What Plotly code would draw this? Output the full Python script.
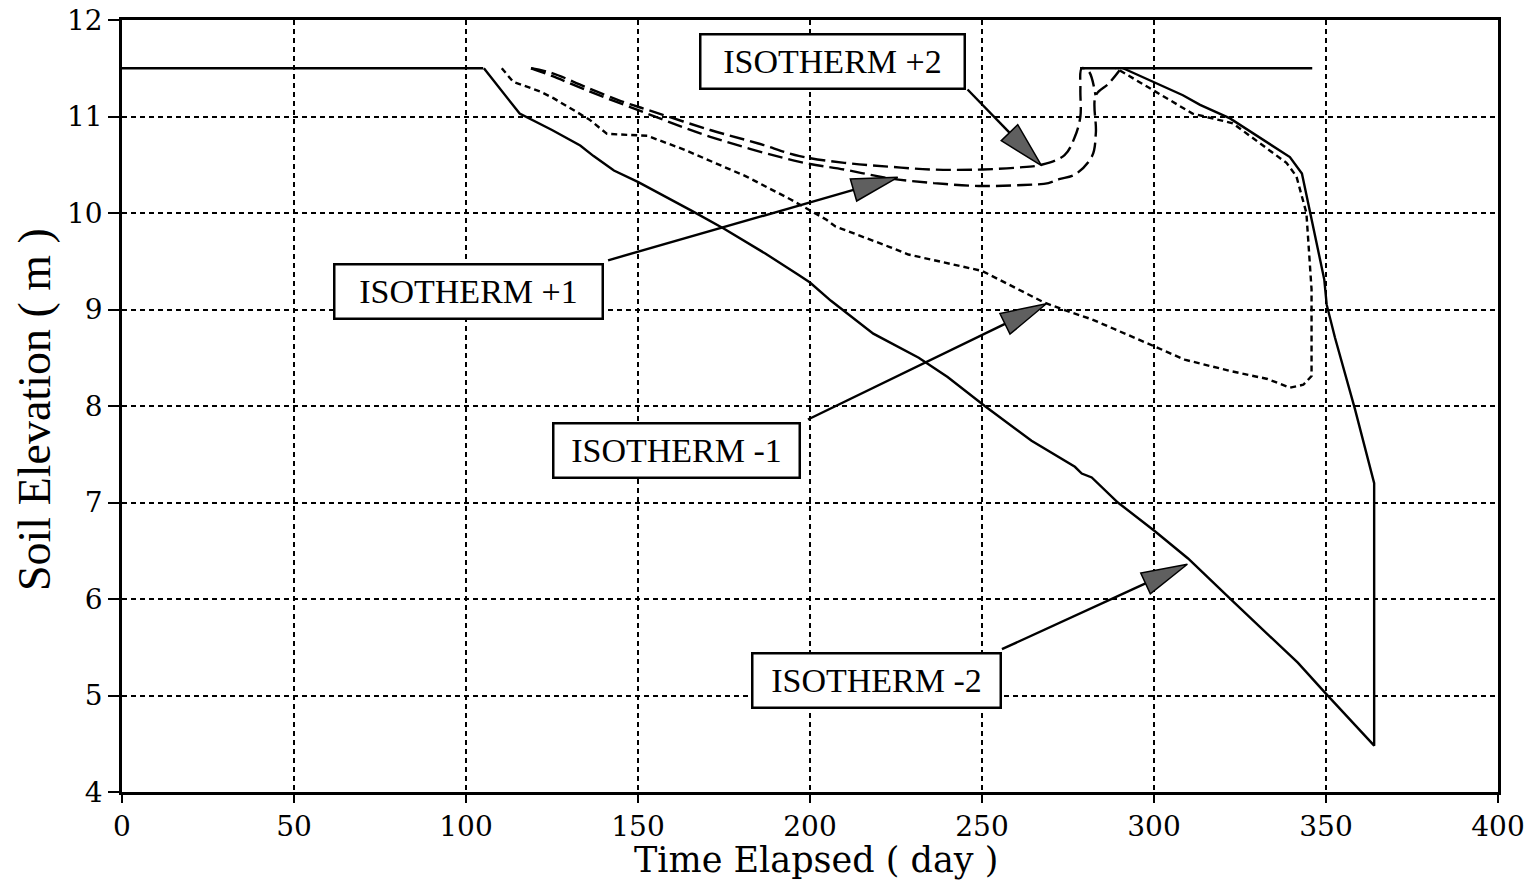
import plotly.graph_objects as go
import math

# ---------------- data ----------------
surface_x = [0, 105, None, 278.5, 346]
surface_y = [11.5, 11.5, None, 11.5, 11.5]

iso_m2_x = [105.2, 115.6, 125, 133.2, 137.1, 143, 150.1, 158, 165.8, 174.9, 187, 196.6, 200,
            206.1, 218.4, 231.6, 240, 250.8, 264.4, 277, 279, 281.9, 289.5, 300, 309.9, 322.5,
            341.8, 349.7, 364, 364, 358.4, 352.6, 350.2, 349.5, 345.3, 343, 339.5, 322.1, 313.4,
            308.4, 291]
iso_m2_y = [11.5, 11.03, 10.86, 10.7, 10.59, 10.44, 10.32, 10.17, 10.02, 9.84, 9.58, 9.36, 9.28,
            9.09, 8.75, 8.5, 8.3, 8.0, 7.64, 7.37, 7.3, 7.26, 7.0, 6.71, 6.42, 5.99,
            5.34, 5.03, 4.48, 7.2, 7.97, 8.71, 9.05, 9.31, 10.0, 10.41, 10.58, 10.98, 11.12,
            11.22, 11.5]

iso_m1_x = [110.4, 113.7, 121.5, 125.4, 135.8, 141, 152.7, 163.2, 181.4, 194.4, 204.8, 207.4,
            223, 228.6, 250, 268.2, 275.9, 281.8, 300, 308.9, 322.5, 333, 339.5, 343.4, 345.8,
            345.8, 344.3, 341.4, 338.5, 322.9, 311.2, 291.7, 289]
iso_m1_y = [11.5, 11.36, 11.26, 11.19, 10.97, 10.82, 10.8, 10.66, 10.38, 10.14, 9.93, 9.86,
            9.65, 9.57, 9.4, 9.07, 8.97, 8.9, 8.62, 8.48, 8.36, 8.28, 8.19, 8.22, 8.31,
            9.21, 10.0, 10.38, 10.52, 10.93, 11.03, 11.45, 11.5]

iso_p1_x = [118.9, 125, 134.5, 152.7, 171, 197, 210, 223, 236, 249, 262, 269.3, 272.4, 277.1,
            282, 283.1, 283.1, 286.8, 290]
iso_p1_y = [11.5, 11.42, 11.28, 11.03, 10.79, 10.53, 10.45, 10.36, 10.31, 10.28, 10.29, 10.31,
            10.35, 10.4, 10.59, 10.83, 11.22, 11.34, 11.48]

iso_p2_x = [118.9, 125, 134.5, 145, 152.7, 171, 185, 197, 210, 223, 236, 249, 260, 267.3, 274,
            277, 278.6, 278.6, 279, 281, 283]
iso_p2_y = [11.5, 11.45, 11.31, 11.16, 11.07, 10.86, 10.72, 10.59, 10.52, 10.48, 10.45, 10.45,
            10.47, 10.5, 10.6, 10.79, 11.0, 11.28, 11.5, 11.47, 11.22]

label_text = ["ISOTHERM +2", "ISOTHERM +1", "ISOTHERM -1", "ISOTHERM -2"]
label_cx = [206.5, 100.6, 161.2, 219.4]
label_cy = [11.575, 9.185, 7.54, 5.155]
arrow_sx = [245.8, 141.3, 199.4, 255.8]
arrow_sy = [11.28, 9.51, 7.86, 5.48]
arrow_tx = [267.3, 225.5, 268.7, 309.7]
arrow_ty = [10.49, 10.37, 9.06, 6.36]

x_ticks = [0, 50, 100, 150, 200, 250, 300, 350, 400]
y_ticks = [4, 5, 6, 7, 8, 9, 10, 11, 12]

x_title = "Time Elapsed ( day )"
y_title = "Soil Elevation ( m )"

# ---------------- layout geometry (body margin removed via post_script) ----------------
W, H = 1540, 887
ML, MR, MT, MB = 122, 42, 20, 95
PW, PH = W - ML - MR, H - MT - MB
XR, YR = (0, 400), (4, 12)
sx = PW / (XR[1] - XR[0])
sy = PH / (YR[1] - YR[0])

SERIF = "Liberation Serif"
WIDE_SERIF = "DejaVu Serif"

fig = go.Figure()

line_w = 2.4
fig.add_trace(go.Scatter(x=surface_x, y=surface_y, mode="lines",
                         line=dict(color="black", width=line_w), hoverinfo="skip"))
fig.add_trace(go.Scatter(x=iso_m2_x, y=iso_m2_y, mode="lines",
                         line=dict(color="black", width=line_w)))
fig.add_trace(go.Scatter(x=iso_m1_x, y=iso_m1_y, mode="lines",
                         line=dict(color="black", width=line_w, dash="6px,4px")))
fig.add_trace(go.Scatter(x=iso_p1_x, y=iso_p1_y, mode="lines", line_shape="spline",
                         line=dict(color="black", width=line_w, dash="15px,6px")))
fig.add_trace(go.Scatter(x=iso_p2_x, y=iso_p2_y, mode="lines", line_shape="spline",
                         line=dict(color="black", width=line_w, dash="15px,6px")))

# arrows: line + filled head
L_HEAD, HW_HEAD = 46, 11.5
for s_x, s_y, t_x, t_y in zip(arrow_sx, arrow_sy, arrow_tx, arrow_ty):
    dxp = (t_x - s_x) * sx
    dyp = (t_y - s_y) * sy
    d = math.hypot(dxp, dyp)
    ux, uy = dxp / d, dyp / d
    nx, ny = -uy, ux
    bx = t_x - L_HEAD * ux / sx
    by = t_y - L_HEAD * uy / sy
    c1x, c1y = bx + HW_HEAD * nx / sx, by + HW_HEAD * ny / sy
    c2x, c2y = bx - HW_HEAD * nx / sx, by - HW_HEAD * ny / sy
    fig.add_shape(type="line", x0=s_x, y0=s_y, x1=bx, y1=by, xref="x", yref="y",
                  line=dict(color="black", width=2.4), layer="above")
    fig.add_shape(type="path", xref="x", yref="y",
                  path=f"M {t_x},{t_y} L {c1x},{c1y} L {c2x},{c2y} Z",
                  fillcolor="#5f5f5f", line=dict(color="black", width=1.5), layer="above")

box_w = [262, 266, 244, 246]
for txt, cx, cy, bw in zip(label_text, label_cx, label_cy, box_w):
    fig.add_annotation(x=cx, y=cy, xref="x", yref="y", text=txt, showarrow=False,
                       font=dict(family=SERIF, size=34, color="black"),
                       bgcolor="white", bordercolor="black", borderwidth=2.5, borderpad=0,
                       width=bw, height=52)

axis_common = dict(showline=True, linecolor="black", linewidth=2.5, mirror=True,
                   ticks="outside", tickwidth=2, tickcolor="black",
                   showgrid=True, gridcolor="black", gridwidth=2, griddash="5px,4px",
                   zeroline=False, automargin=False, ticklabeloverflow="allow")

fig.update_xaxes(range=list(XR), tickvals=x_ticks, ticklen=8, **axis_common,
                 tickfont=dict(family=WIDE_SERIF, size=28, color="black"))
fig.update_yaxes(range=list(YR), tickvals=y_ticks, ticklen=11, **axis_common,
                 tickfont=dict(family=WIDE_SERIF, size=28, color="black"))

# axis titles placed as paper annotations
fig.add_annotation(x=0.5 + 6 / PW, y=-(860 - (MT + PH)) / PH, xref="paper", yref="paper",
                   text=x_title, showarrow=False, xanchor="center", yanchor="middle",
                   font=dict(family=WIDE_SERIF, size=35, color="black"))
fig.add_annotation(x=(34 - ML) / PW, y=(MT + PH - 410) / PH, xref="paper", yref="paper",
                   text=y_title, showarrow=False, textangle=-90,
                   xanchor="center", yanchor="middle",
                   font=dict(family=SERIF, size=46, color="black"))

fig.update_layout(width=W, height=H, margin=dict(l=ML, r=MR, t=MT, b=MB, autoexpand=False),
                  plot_bgcolor="white", paper_bgcolor="white", showlegend=False)

fig.write_html("out.html", config={"displayModeBar": False},
               post_script="document.body.style.margin='0';document.body.style.overflow='hidden';")
